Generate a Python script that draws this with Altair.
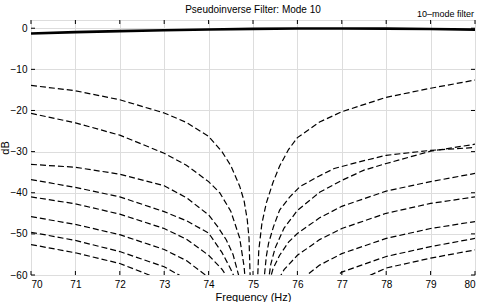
import altair as alt
import pandas as pd

# ---------------- data ----------------
freq_ticks = [70, 71, 72, 73, 74, 75, 76, 77, 78, 79, 80]
db_ticks = [-60, -50, -40, -30, -20, -10, 0]

title_text = "Pseudoinverse Filter:  Mode 10"
legend_label = "10\u2013mode filter"

# solid curve: 10-mode filter
filter_f = [70, 71, 72, 73, 74, 75, 76, 77, 78, 79, 80]
filter_db = [-1.3, -0.95, -0.7, -0.5, -0.3, -0.15, -0.05, -0.05, -0.1, -0.2, -0.35]

# dashed curves, left branches (below the notch near 75 Hz)
L1_f = [70, 71, 72, 73, 73.5, 74, 74.3, 74.5, 74.7, 74.8, 74.87, 74.91, 74.94]
L1_db = [-13.9, -15.2, -17.4, -20.6, -22.9, -26.3, -30.0, -33.4, -38.4, -42.0, -46.5, -51.0, -62.0]
L2_f = [70, 71, 72, 73, 73.5, 74, 74.25, 74.5, 74.7, 74.8, 74.83]
L2_db = [-20.7, -23.0, -26.0, -30.4, -33.3, -37.3, -40.0, -44.5, -51.0, -58.0, -62.0]
L3_f = [70, 71, 72, 73, 73.5, 74, 74.2, 74.4, 74.55, 74.7]
L3_db = [-33.1, -33.8, -35.5, -38.3, -41.2, -45.4, -48.2, -51.5, -55.0, -61.0]
L4_f = [70, 71, 72, 73, 73.5, 74, 74.3, 74.5, 74.6]
L4_db = [-36.8, -38.7, -41.0, -44.6, -46.8, -49.8, -54.5, -58.6, -61.0]
L5_f = [70, 71, 72, 73, 73.5, 74, 74.3, 74.45]
L5_db = [-41.0, -42.7, -45.2, -48.7, -51.3, -55.2, -58.6, -61.0]
L6_f = [70, 71, 72, 73, 73.5, 74.05]
L6_db = [-45.8, -47.7, -50.2, -53.8, -56.5, -61.0]
L7_f = [70, 71, 72, 73, 73.5]
L7_db = [-49.6, -51.6, -54.3, -58.0, -61.0]
L8_f = [70, 71, 72, 72.9]
L8_db = [-52.6, -54.6, -57.2, -61.0]

# dashed curves, right branches (above the notch)
R1_f = [75.1, 75.13, 75.2, 75.3, 75.45, 75.6, 75.8, 76, 76.5, 77, 78, 79, 80]
R1_db = [-62.0, -54.0, -47.5, -42.5, -37.5, -33.5, -29.5, -26.6, -22.8, -20.3, -16.8, -14.6, -12.6]
R2_f = [75.24, 75.3, 75.35, 75.46, 75.6, 75.83, 76.06, 76.46, 76.83, 77.5, 78, 79, 80]
R2_db = [-62.0, -55.5, -52.3, -48.3, -44.2, -41.0, -38.5, -36.1, -34.1, -32.2, -30.9, -29.7, -29.0]
R3_f = [75.34, 75.4, 75.5, 75.7, 76, 76.5, 77, 77.5, 78, 79, 80]
R3_db = [-62.0, -57.4, -53.4, -48.6, -44.3, -39.9, -37.0, -34.5, -32.9, -29.9, -28.2]
R4_f = [75.36, 75.45, 75.6, 75.8, 76, 76.5, 77, 78, 79, 80]
R4_db = [-62.0, -58.5, -55.2, -52.0, -49.9, -46.1, -43.3, -39.6, -37.3, -35.3]
R5_f = [75.58, 75.7, 76, 76.5, 77, 78, 79, 80]
R5_db = [-61.0, -58.7, -55.2, -51.4, -48.7, -45.0, -42.6, -41.0]
R6_f = [76.1, 76.5, 77, 78, 79, 80]
R6_db = [-61.0, -57.6, -54.8, -51.1, -48.7, -47.0]
R7_f = [76.8, 77, 78, 79, 80]
R7_db = [-61.0, -59.3, -55.5, -53.1, -51.1]
R8_f = [77.45, 78, 79, 80]
R8_db = [-61.0, -58.3, -55.9, -53.9]

branches = [
    ("L1", L1_f, L1_db), ("L2", L2_f, L2_db), ("L3", L3_f, L3_db), ("L4", L4_f, L4_db),
    ("L5", L5_f, L5_db), ("L6", L6_f, L6_db), ("L7", L7_f, L7_db), ("L8", L8_f, L8_db),
    ("R1", R1_f, R1_db), ("R2", R2_f, R2_db), ("R3", R3_f, R3_db), ("R4", R4_f, R4_db),
    ("R5", R5_f, R5_db), ("R6", R6_f, R6_db), ("R7", R7_f, R7_db), ("R8", R8_f, R8_db),
]

rows = []
for name, fs, ds in branches:
    for f, d in zip(fs, ds):
        rows.append({"branch": name, "f": f, "db": d})
dashed_df = pd.DataFrame(rows)
filter_df = pd.DataFrame({"f": filter_f, "db": filter_db})
xt_df = pd.DataFrame({"f": freq_ticks})
yt_df = pd.DataFrame({"db": db_ticks})
legend_df = pd.DataFrame({"t": [legend_label]})
title_df = pd.DataFrame({"t": [title_text]})

W, H = 444, 255
FONT = "Liberation Sans"

xscale = alt.Scale(domain=[70, 80], nice=False, zero=False)
yscale = alt.Scale(domain=[-60, 2], nice=False, zero=False)

x_axis = alt.Axis(values=freq_ticks, title="Frequency (Hz)", grid=True, ticks=False,
                  domain=False, labelPadding=4, titlePadding=2, format="d",
                  titleFontWeight="normal")
y_axis = alt.Axis(values=db_ticks, title="dB", grid=True, ticks=False,
                  domain=False, labelPadding=4, format="d",
                  titleFontWeight="normal", titleX=-26, titleY=H / 2,
                  titleAngle=270, titleAlign="center", titleBaseline="middle")

dashed = alt.Chart(dashed_df).mark_line(
    color="black", strokeWidth=1.2, strokeDash=[6, 3], clip=True
).encode(
    x=alt.X("f:Q", scale=xscale, axis=x_axis),
    y=alt.Y("db:Q", scale=yscale, axis=y_axis),
    detail="branch:N",
)

solid = alt.Chart(filter_df).mark_line(color="black", strokeWidth=2.6, clip=True).encode(
    x=alt.X("f:Q", scale=xscale),
    y=alt.Y("db:Q", scale=yscale),
)

tick_len = 4
xt_bottom = alt.Chart(xt_df).mark_rule(color="black", strokeWidth=1).encode(
    x=alt.X("f:Q", scale=xscale), y=alt.value(H), y2=alt.value(H - tick_len))
xt_top = alt.Chart(xt_df).mark_rule(color="black", strokeWidth=1).encode(
    x=alt.X("f:Q", scale=xscale), y=alt.value(0), y2=alt.value(tick_len))
yt_left = alt.Chart(yt_df).mark_rule(color="black", strokeWidth=1).encode(
    y=alt.Y("db:Q", scale=yscale), x=alt.value(0), x2=alt.value(tick_len))
yt_right = alt.Chart(yt_df).mark_rule(color="black", strokeWidth=1).encode(
    y=alt.Y("db:Q", scale=yscale), x=alt.value(W), x2=alt.value(W - tick_len))

legend = alt.Chart(legend_df).mark_text(
    align="right", baseline="alphabetic", fontSize=9, font=FONT, color="black"
).encode(x=alt.value(W - 1), y=alt.value(-3), text="t:N")

title = alt.Chart(title_df).mark_text(
    align="center", baseline="alphabetic", fontSize=10, font=FONT, color="black"
).encode(x=alt.value(W / 2), y=alt.value(-7), text="t:N")

chart = alt.layer(dashed, solid, xt_bottom, xt_top, yt_left, yt_right, legend, title).properties(
    width=W, height=H,
    autosize=alt.AutoSizeParams(type="none"),
    padding={"left": 31, "top": 20, "right": 5, "bottom": 27},
).configure_view(
    stroke="black", strokeWidth=1
).configure_axis(
    labelFont=FONT, titleFont=FONT, labelFontSize=9.5, titleFontSize=9.5,
    labelColor="black", titleColor="black", titleFontWeight="normal",
    gridColor="#777777", gridDash=[1, 3], gridWidth=0.8,
).configure(background="white")

chart.save("out.html", embed_options={"renderer": "svg", "actions": False})
